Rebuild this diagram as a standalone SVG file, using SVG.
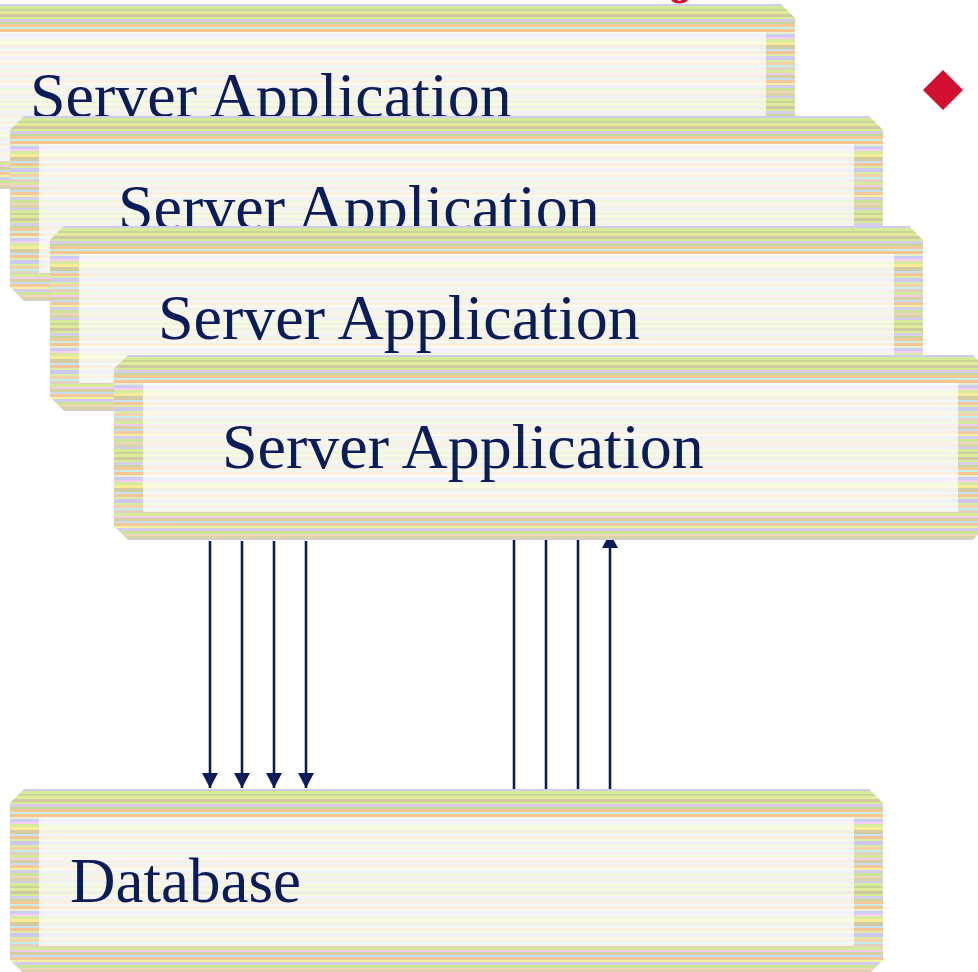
<svg xmlns="http://www.w3.org/2000/svg" width="978" height="972" viewBox="0 0 978 972">
<style>
.lbl{font-family:"Liberation Serif","Times New Roman",serif;font-size:64px;fill:#0b1c5a}
.face{fill:#ffffff;fill-opacity:0.72}
.conn line{stroke:#0b1c5a;stroke-width:2.6;fill:none}
</style>
<defs>
<pattern id="stripes" patternUnits="userSpaceOnUse" x="0" y="0" width="40" height="92">
<rect x="0" y="0" width="40" height="92" fill="#e0dcb8"/>
<rect x="0" y="0" width="40" height="2" fill="#d0ccf0"/>
<rect x="0" y="2" width="40" height="3" fill="#d4ec98"/>
<rect x="0" y="5" width="40" height="2" fill="#c8d498"/>
<rect x="0" y="7" width="40" height="3" fill="#e0ec9c"/>
<rect x="0" y="10" width="40" height="3" fill="#d0c8a0"/>
<rect x="0" y="13" width="40" height="2" fill="#d4ec94"/>
<rect x="0" y="15" width="40" height="3" fill="#d8cce8"/>
<rect x="0" y="18" width="40" height="2" fill="#c4d898"/>
<rect x="0" y="20" width="40" height="3" fill="#f6c898"/>
<rect x="0" y="23" width="40" height="2" fill="#c4f0e8"/>
<rect x="0" y="25" width="40" height="3" fill="#f8c490"/>
<rect x="0" y="28" width="40" height="2" fill="#e8f0d0"/>
<rect x="0" y="30" width="40" height="3" fill="#ccccf4"/>
<rect x="0" y="33" width="40" height="2" fill="#f8ccf4"/>
<rect x="0" y="35" width="40" height="3" fill="#d4ec9c"/>
<rect x="0" y="38" width="40" height="3" fill="#f8ec98"/>
<rect x="0" y="41" width="40" height="4" fill="#d4cca0"/>
<rect x="0" y="45" width="40" height="2" fill="#c8e4f4"/>
<rect x="0" y="47" width="40" height="3" fill="#f4c498"/>
<rect x="0" y="50" width="40" height="2" fill="#dcecA4"/>
<rect x="0" y="52" width="40" height="4" fill="#ccc8f0"/>
<rect x="0" y="56" width="40" height="2" fill="#d8eca4"/>
<rect x="0" y="58" width="40" height="3" fill="#f6d0a8"/>
<rect x="0" y="61" width="40" height="2" fill="#c0eeee"/>
<rect x="0" y="63" width="40" height="3" fill="#e4d0c0"/>
<rect x="0" y="66" width="40" height="3" fill="#d4ec98"/>
<rect x="0" y="69" width="40" height="2" fill="#f8c8ee"/>
<rect x="0" y="71" width="40" height="3" fill="#d4d0a0"/>
<rect x="0" y="74" width="40" height="2" fill="#c8dcf4"/>
<rect x="0" y="76" width="40" height="3" fill="#f2c89c"/>
<rect x="0" y="79" width="40" height="2" fill="#f4f0a0"/>
<rect x="0" y="81" width="40" height="3" fill="#d4ccec"/>
<rect x="0" y="84" width="40" height="3" fill="#cce498"/>
<rect x="0" y="87" width="40" height="2" fill="#f0d4bc"/>
<rect x="0" y="89" width="40" height="3" fill="#d8d4a8"/>
</pattern>
<marker id="arr" markerUnits="userSpaceOnUse" markerWidth="16" markerHeight="16" refX="15" refY="8" orient="auto">
<path d="M0,0 L15,8 L0,16 Z" fill="#0b1c5a"/>
</marker>
<g id="boxshape">
<polygon points="14,0 859,0 873,14 873,171 859,185 14,185 0,171 0,14" fill="url(#stripes)"/>
<rect x="29" y="28" width="815" height="129" fill="url(#stripes)"/>
<rect class="face" x="29" y="28" width="815" height="129"/>
</g>
</defs>

<text x="667" y="3" font-family="Liberation Serif, serif" font-weight="bold" font-size="50" fill="#d20f30">o</text>

<g id="connectors" class="conn">
<line x1="210" y1="541" x2="210" y2="788" marker-end="url(#arr)"/>
<line x1="242" y1="541" x2="242" y2="788" marker-end="url(#arr)"/>
<line x1="274" y1="541" x2="274" y2="788" marker-end="url(#arr)"/>
<line x1="306" y1="541" x2="306" y2="788" marker-end="url(#arr)"/>
<line x1="514" y1="789" x2="514" y2="540"/>
<line x1="546" y1="789" x2="546" y2="540"/>
<line x1="578" y1="789" x2="578" y2="540"/>
<line x1="610" y1="789" x2="610" y2="533" marker-end="url(#arr)"/>
</g>

<g id="server1" transform="translate(-78,4)">
<use href="#boxshape"/>
<text class="lbl" x="108" y="113">Server Application</text>
</g>
<g id="server2" transform="translate(10,116)">
<use href="#boxshape"/>
<text class="lbl" x="108" y="113">Server Application</text>
</g>
<g id="server3" transform="translate(50,226)">
<use href="#boxshape"/>
<text class="lbl" x="108" y="113">Server Application</text>
</g>
<g id="server4" transform="translate(114,355)">
<use href="#boxshape"/>
<text class="lbl" x="108" y="113">Server Application</text>
</g>
<g id="database" transform="translate(10,789)">
<use href="#boxshape"/>
<text class="lbl" x="60" y="113" style="font-size:63px">Database</text>
</g>

<g id="bullet">
<polygon points="943,70 963,90 943,110 923,90" fill="#d20f30"/>
</g>
</svg>
